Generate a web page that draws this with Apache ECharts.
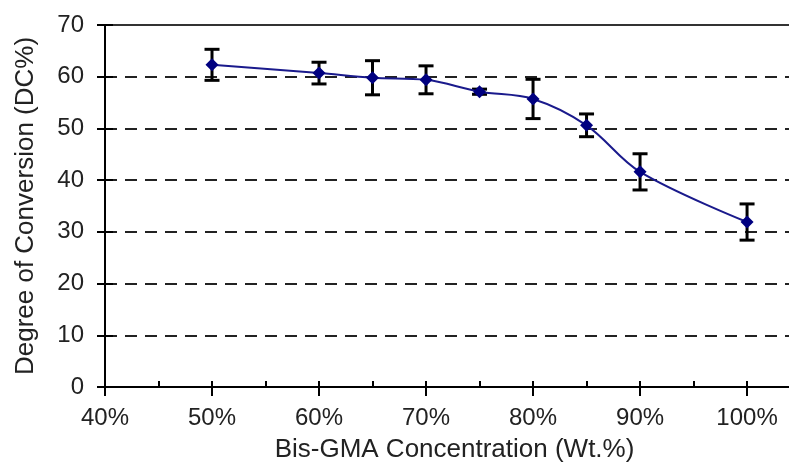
<!DOCTYPE html>
<html>
<head>
<meta charset="utf-8">
<script src="https://cdn.jsdelivr.net/npm/echarts@6/dist/echarts.min.js"></script>
<style>
html,body{margin:0;padding:0;background:#fff;}
#chart{width:789px;height:466px;}
</style>
</head>
<body>
<div id="chart"></div>
<script>
// Data
const concentrations = [50, 60, 65, 70, 75, 80, 85, 90, 100];          // Bis-GMA wt.%
const dcMean = [62.3, 60.7, 59.8, 59.4, 57.1, 55.7, 50.6, 41.6, 31.9];  // Degree of conversion (%)
const dcError = [3.0, 2.1, 3.3, 2.7, 0.5, 3.8, 2.2, 3.5, 3.5];          // +/- error
const xMajorTicks = [40, 50, 60, 70, 80, 90, 100];
const xMinorTicks = [40, 45, 50, 55, 60, 65, 70, 75, 80, 85, 90, 95, 100];
const yTicks = [0, 10, 20, 30, 40, 50, 60, 70];

const FONT = 'Liberation Sans, Arial, sans-serif';
const TEXT = '#222';

const chart = echarts.init(document.getElementById('chart'), null, {renderer: 'canvas'});

const lineData = concentrations.map((c, i) => [c, dcMean[i]]);
const errData = concentrations.map((c, i) => [c, dcMean[i] - dcError[i], dcMean[i] + dcError[i]]);

const xCommon = {type: 'value', min: 40, max: 104.2, splitLine: {show: false}};
const yCommon = {type: 'value', min: yTicks[0], max: yTicks[yTicks.length - 1], interval: 10, position: 'left'};

chart.setOption({
  animation: false,
  backgroundColor: '#fff',
  grid: {
    left: 105, right: -3, top: 25, bottom: 79,
    show: false, outerBoundsMode: 'none'
  },
  xAxis: [
    Object.assign({}, xCommon, {
      position: 'bottom',
      axisLine: {show: true, lineStyle: {color: '#000', width: 2}},
      axisTick: {show: true, customValues: xMajorTicks, inside: false, length: 9, lineStyle: {color: '#000', width: 2}},
      axisLabel: {customValues: xMajorTicks, formatter: v => v + '%', fontSize: 24, color: TEXT, fontFamily: FONT, margin: 19},
      name: 'Bis-GMA Concentration (Wt.%)',
      nameLocation: 'middle',
      nameGap: 50,
      nameTextStyle: {fontSize: 26, color: TEXT, fontFamily: FONT, padding: [0, 0, 0, 12]}
    }),
    Object.assign({}, xCommon, {
      position: 'bottom',
      axisLine: {show: false},
      axisTick: {show: true, customValues: xMinorTicks, inside: true, length: 6, lineStyle: {color: '#000', width: 2}},
      axisLabel: {show: false}
    }),
    Object.assign({}, xCommon, {
      position: 'top',
      axisLine: {show: true, lineStyle: {color: '#333', width: 2}},
      axisTick: {show: false},
      axisLabel: {show: false}
    })
  ],
  yAxis: [
    Object.assign({}, yCommon, {
      axisLine: {show: true, lineStyle: {color: '#000', width: 2}},
      axisTick: {show: true, inside: false, length: 8, lineStyle: {color: '#000', width: 2}},
      axisLabel: {fontSize: 24, color: TEXT, fontFamily: FONT, margin: 21},
      splitLine: {show: true, lineStyle: {color: '#222', width: 2, type: [12, 8]}},
      name: 'Degree of Conversion (DC%)',
      nameLocation: 'middle',
      nameGap: 66,
      nameRotate: 90,
      nameTextStyle: {fontSize: 26, color: TEXT, fontFamily: FONT}
    }),
    Object.assign({}, yCommon, {
      axisLine: {show: false},
      axisTick: {show: true, inside: true, length: 8, lineStyle: {color: '#000', width: 2}},
      axisLabel: {show: false},
      splitLine: {show: false}
    })
  ],
  series: [
    {
      type: 'custom',
      xAxisIndex: 0,
      yAxisIndex: 0,
      z: 2,
      data: errData,
      renderItem: function (params, api) {
        const x = api.value(0);
        const lo = api.coord([x, api.value(1)]);
        const hi = api.coord([x, api.value(2)]);
        const cap = 7.5;
        const style = {stroke: '#000', lineWidth: 3};
        return {
          type: 'group',
          children: [
            {type: 'line', shape: {x1: lo[0], y1: lo[1], x2: hi[0], y2: hi[1]}, style: style},
            {type: 'line', shape: {x1: lo[0] - cap, y1: lo[1], x2: lo[0] + cap, y2: lo[1]}, style: style},
            {type: 'line', shape: {x1: hi[0] - cap, y1: hi[1], x2: hi[0] + cap, y2: hi[1]}, style: style}
          ]
        };
      }
    },
    {
      type: 'line',
      xAxisIndex: 0,
      yAxisIndex: 0,
      z: 3,
      data: lineData,
      smooth: 0.35,
      symbol: 'diamond',
      symbolSize: 13,
      itemStyle: {color: '#000080'},
      lineStyle: {color: '#1a1a8c', width: 2}
    }
  ]
});
</script>
</body>
</html>
